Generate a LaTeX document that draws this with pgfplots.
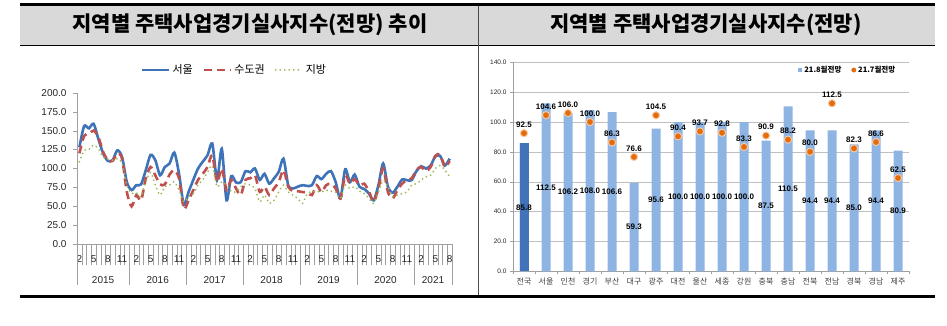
\documentclass[border=0pt]{standalone}
\usepackage{fontspec}
\usepackage{pgfplots}
\pgfplotsset{compat=1.18}
\usepackage{pgfplotstable}
\setmainfont{Liberation Sans}
\newfontfamily\kr{Noto Sans CJK KR}
\pgfplotsset{/pgf/number format/assume math mode=true}
\definecolor{headgray}{HTML}{D9D9D9}
\definecolor{axgray}{HTML}{A0A0A0}
\definecolor{gridgray}{HTML}{BFBFBF}
\definecolor{cseoul}{HTML}{3F73B8}
\definecolor{csudo}{HTML}{C0504D}
\definecolor{cjibang}{HTML}{9BBB59}
\definecolor{barlight}{HTML}{8EB4E3}
\definecolor{bardark}{HTML}{4273B9}
\definecolor{dotorange}{HTML}{E46C0A}
\definecolor{halo}{HTML}{F6C9A6}

\pgfplotstableread{
i seoul sudo jibang
0 128 120 108.8
1 156 143 124
2 153 146 125
3 159 150 130.7
4 139 141.7 126
5 120 122 115
6 110 111 112
7 111 110 111
8 124 120 113
9 115 113 106.6
10 82 69 78
11 71.5 50 67
12 78 65 68
13 79 58 63
14 98 87 82.5
15 118 102 95
16 111 91 78
17 91 79 65
18 102 79 76
19 106.6 92 78
20 121 98 82.5
21 93 87 71.5
22 52 47 56
23 69 58 63
24 85 71.5 67
25 100 85 78
26 109 93 85
27 117.5 102 95
28 133 117.5 104
29 85 82 76
30 126 100 82.5
31 58 71.5 78
32 90 85 70
33 81.6 73.7 69
34 82 65 76
35 96.5 85 80
36 95 87 78
37 100 91 73.7
38 85 69 56
39 93 76 65
40 80 65 54
41 87 73.7 58
42 95.6 82 69
43 113 98 78
44 78 76 69
45 73.7 70 65
46 76 70 60.5
47 78 69 54
48 77 68 67
49 78 65 69
50 90 78 70
51 86 69 69
52 93 78 71.5
53 96.5 80 70
54 82 73.7 69
55 60.5 60.5 60.5
56 99 91 78
57 82 80 73.7
58 92 86 76
59 76 78 70
60 73 80 67
61 67 70 60.5
62 58 56 54
63 78 73.7 69
64 106.6 100 84.6
65 76 69 76
66 68 60.5 63
67 76 71.5 65
68 85.5 80 67
69 84.6 84.6 69
70 84.6 87 78
71 96.5 98 80
72 103 102 84.6
73 100 96.5 89
74 104 102 91
75 116 116.7 100
76 116.7 118.4 104
77 104 102 98
78 113 110 89
}\linedata

\pgfplotstableread{
x v w
0 85.8 92.5
1 112.5 104.6
2 106.2 106.0
3 108.0 100.0
4 106.6 86.3
5 59.3 76.6
6 95.6 104.5
7 100.0 90.4
8 100.0 93.7
9 100.0 92.8
10 100.0 83.3
11 87.5 90.9
12 110.5 88.2
13 94.4 80.0
14 94.4 112.5
15 85.0 82.3
16 94.4 86.6
17 80.9 62.5
}\bardata

\begin{document}
\begin{tikzpicture}
\useasboundingbox (0pt,0pt) rectangle (947pt,-326pt);
% table frame
\fill[headgray] (20pt,-5pt) rectangle (935pt,-45pt);
\draw[line width=3pt] (20pt,-4.5pt) -- (935pt,-4.5pt);
\draw[line width=0.8pt] (20pt,-45pt) -- (935pt,-45pt);
\draw[line width=3.5pt] (20pt,-296.5pt) -- (935pt,-296.5pt);
\draw[line width=0.7pt, black!70] (478pt,-6pt) -- (478pt,-295pt);
\node[font=\kr\bfseries\fontsize{21}{21}\selectfont] at (250pt,-25pt) {지역별 주택사업경기실사지수(전망) 추이};
\node[font=\kr\bfseries\fontsize{21}{21}\selectfont] at (706pt,-25pt) {지역별 주택사업경기실사지수(전망)};

% ---------------- left line chart
\begin{axis}[
  at={(77pt,-244.3pt)}, anchor=south west, scale only axis,
  width=375pt, height=151.6pt,
  xmin=-0.5, xmax=78.5, ymin=0, ymax=200,
  axis x line*=bottom, axis y line*=left,
  axis line style={draw=axgray},
  ytick={0,25,...,200},
  yticklabels={0.0,25.0,50.0,75.0,100.0,125.0,150.0,175.0,200.0},
  yticklabel style={font=\fontsize{10}{10}\selectfont, text=black!85, xshift=-3pt},
  major tick length=4pt, tick align=outside,
  tick style={axgray},
  xtick={0,3,...,78},
  xticklabels={2,5,8,11,2,5,8,11,2,5,8,11,2,5,8,11,2,5,8,11,2,5,8,11,2,5,8},
  major x tick style={draw=none},
  minor xtick={-0.5,0.5,...,78.5},
  minor tick length=21pt,
  xticklabel style={font=\fontsize{10}{10}\selectfont, text=black!85, yshift=-4pt},
  clip=false,
  legend columns=3,
  legend style={at={(0.42,1.15)}, anchor=center, draw=none, fill=none,
    font=\kr\fontsize{11}{11}\selectfont,
    /tikz/every even column/.append style={column sep=8pt}},
  legend image code/.code={\draw[#1] (0pt,0pt) -- (27pt,0pt);},
]
\addplot[cseoul, line width=2.6pt, smooth, tension=0.45] table[x=i,y=seoul]{\linedata};
\addlegendentry{서울}
\addplot[csudo, line width=2.6pt, smooth, tension=0.45, dash pattern=on 8pt off 5pt] table[x=i,y=sudo]{\linedata};
\addlegendentry{수도권}
\addplot[cjibang, line width=2pt, smooth, tension=0.45, line cap=round, dash pattern=on 0pt off 4.5pt] table[x=i,y=jibang]{\linedata};
\addlegendentry{지방}
\pgfplotsinvokeforeach{-0.5,10.5,22.5,34.5,46.5,58.5,70.5,78.5}{
  \draw[axgray] (axis cs:#1,0) -- ++(0pt,-41pt);
}
\node[font=\fontsize{10}{10}\selectfont, text=black!85] at (axis cs:5,0) [yshift=-36pt] {2015};
\node[font=\fontsize{10}{10}\selectfont, text=black!85] at (axis cs:16.5,0) [yshift=-36pt] {2016};
\node[font=\fontsize{10}{10}\selectfont, text=black!85] at (axis cs:28.5,0) [yshift=-36pt] {2017};
\node[font=\fontsize{10}{10}\selectfont, text=black!85] at (axis cs:40.5,0) [yshift=-36pt] {2018};
\node[font=\fontsize{10}{10}\selectfont, text=black!85] at (axis cs:52.5,0) [yshift=-36pt] {2019};
\node[font=\fontsize{10}{10}\selectfont, text=black!85] at (axis cs:64.5,0) [yshift=-36pt] {2020};
\node[font=\fontsize{10}{10}\selectfont, text=black!85] at (axis cs:74.5,0) [yshift=-36pt] {2021};
\end{axis}

% ---------------- right bar chart
\begin{axis}[
  at={(513pt,-271.3pt)}, anchor=south west, scale only axis,
  width=396pt, height=209pt,
  xmin=-0.5, xmax=17.5, ymin=0, ymax=140,
  axis x line*=bottom, axis y line*=left,
  axis line style={draw=axgray},
  ytick={0,20,...,140},
  yticklabels={0.0,20.0,40.0,60.0,80.0,100.0,120.0,140.0},
  yticklabel style={font=\fontsize{6.5}{6.5}\selectfont, text=black!85},
  ymajorgrids, grid style={gridgray},
  xtick={0,...,17},
  xticklabels={전국,서울,인천,경기,부산,대구,광주,대전,울산,세종,강원,충북,충남,전북,전남,경북,경남,제주},
  major x tick style={draw=none},
  minor xtick={-0.5,0.5,...,17.5},
  minor tick length=3pt, major tick length=3pt, tick align=outside,
  tick style={axgray},
  xticklabel style={font=\kr\fontsize{8}{8}\selectfont, text=black!75},
  clip=false,
  legend columns=2,
  legend style={at={(0.845,0.963)}, anchor=center, draw=none, fill=none,
    font=\kr\bfseries\fontsize{7.5}{7.5}\selectfont,
    /tikz/every even column/.append style={column sep=8pt}},
]
\addplot[ybar, bar width=9pt, bar shift=0pt, fill=barlight, draw=none,
  legend image code/.code={\fill[barlight] (0pt,-2.2pt) rectangle (4.4pt,2.2pt);}]
  table[x=x,y=v]{\bardata};
\addlegendentry{21.8월전망}
\addplot[ybar, bar width=9pt, bar shift=0pt, fill=bardark, draw=none, forget plot]
  coordinates {(0,85.8)};
\addplot[draw=none, forget plot, point meta=explicit,
  nodes near coords={\pgfmathprintnumber[fixed,fixed zerofill,precision=1,assume math mode=true]{\pgfplotspointmeta}},
  every node near coord/.append style={anchor=center, font=\bfseries\fontsize{8}{8}\selectfont, text=black}]
  table[x=x, y expr=\thisrow{v}/2, meta=v]{\bardata};
\addplot[only marks, mark=*, mark size=3.6pt,
  mark options={fill=dotorange, draw=halo, line width=1pt},
  point meta=explicit,
  nodes near coords={\pgfmathprintnumber[fixed,fixed zerofill,precision=1,assume math mode=true]{\pgfplotspointmeta}},
  every node near coord/.append style={anchor=south, yshift=2pt, font=\bfseries\fontsize{8}{8}\selectfont, text=black},
  legend image code/.code={\fill[dotorange] (2.2pt,0pt) circle (2.2pt);}]
  table[x=x, y=w, meta=w]{\bardata};
\addlegendentry{21.7월전망}
\end{axis}
\end{tikzpicture}
\end{document}
